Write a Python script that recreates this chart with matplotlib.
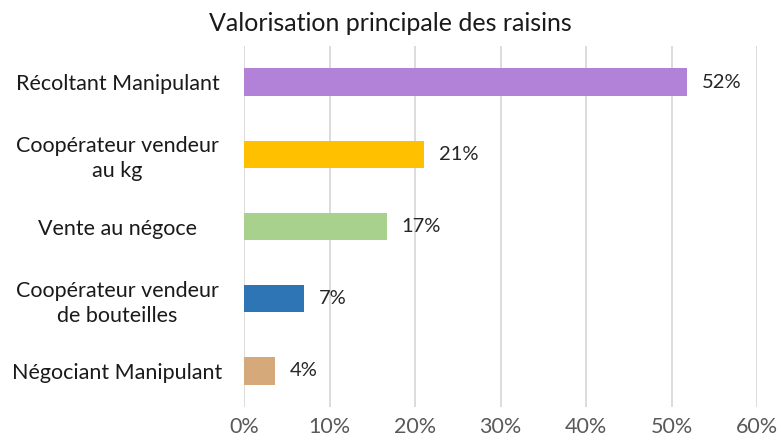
import numpy as np
import matplotlib.pyplot as plt

# données
categories = ['Récoltant Manipulant', 'Coopérateur vendeur\nau kg', 'Vente au négoce',
              'Coopérateur vendeur\nde bouteilles', 'Négociant Manipulant']
valeurs = [51.8, 21.1, 16.7, 7.0, 3.6]
etiquettes = ['52%', '21%', '17%', '7%', '4%']
couleurs = ['#B282D9', '#FFC000', '#A9D18E', '#2E75B6', '#D5A97A']
ticks = [0, 10, 20, 30, 40, 50, 60]

plt.rcParams['font.family'] = ['Lato', 'DejaVu Sans']

fig = plt.figure(figsize=(7.81, 4.45), dpi=100)
ax = fig.add_axes([0.3124, 0.0854, 0.657, 0.811])

y = np.arange(len(categories))
ax.barh(y, valeurs, height=0.38, color=couleurs, zorder=3)

for yi, v, lab in zip(y, valeurs, etiquettes):
    ax.text(v + 1.7, yi, lab, va='center', ha='left', fontsize=14.5, color='#262626')

ax.set_ylim(len(categories) - 0.5, -0.5)
ax.set_xlim(0, 60)
ax.set_yticks(y)
ax.set_yticklabels(categories, fontsize=15.5, color='#1a1a1a', ha='center',
                   linespacing=1.3)
ax.tick_params(axis='y', pad=91, length=0)
ax.set_xticks(ticks)
ax.set_xticklabels([f'{t}%' for t in ticks], fontsize=15.5, color='#595959')
ax.tick_params(axis='x', length=0, pad=7)

ax.grid(axis='x', color='#D9D9D9', linewidth=1.3, zorder=0)
for s in ax.spines.values():
    s.set_visible(False)

fig.text(0.5, 0.947, 'Valorisation principale des raisins', ha='center', va='center',
         fontsize=18, color='#1a1a1a')

fig.savefig('out.png', dpi=100)
